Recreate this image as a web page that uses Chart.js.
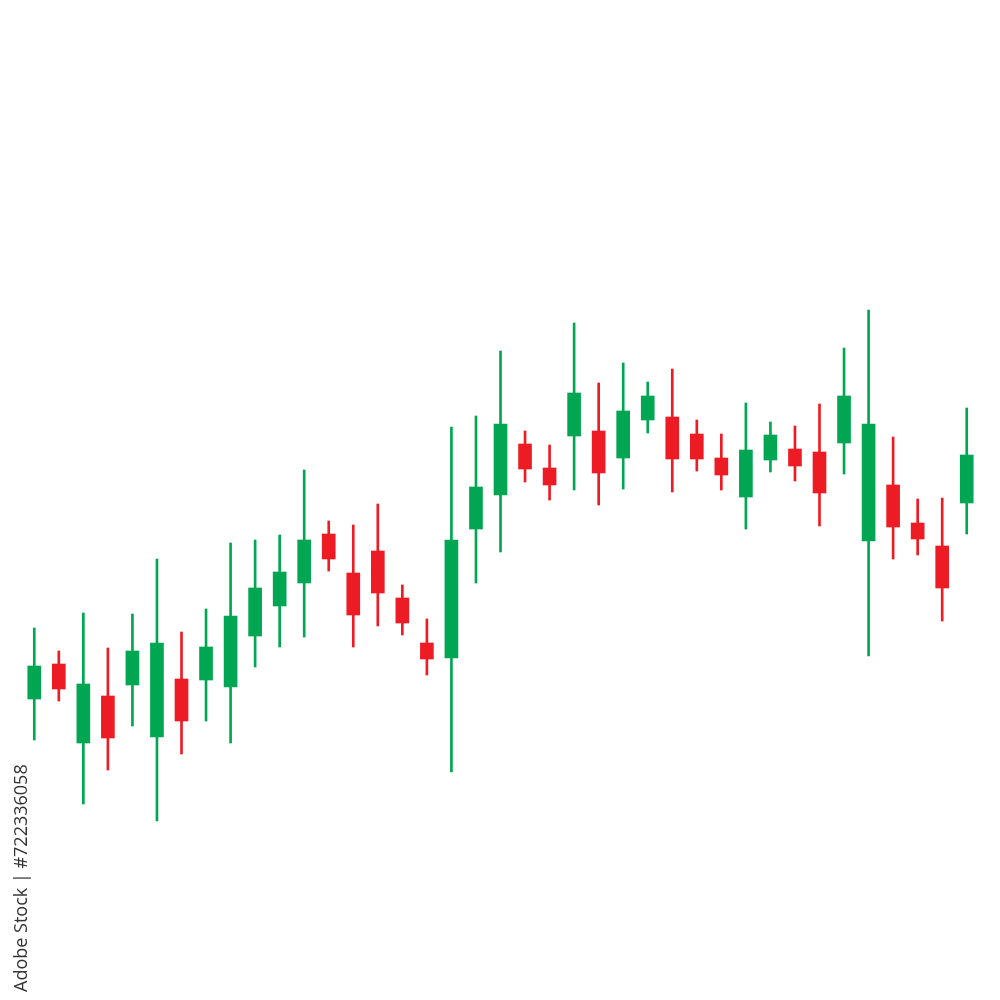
<!DOCTYPE html>
<html>
<head>
<meta charset="utf-8">
<script src="https://cdn.jsdelivr.net/npm/chart.js@4/dist/chart.umd.min.js"></script>
<style>
    html, body { margin: 0; padding: 0; background: #ffffff; }
    #wrap { position: relative; width: 1000px; height: 1000px; overflow: hidden; }
    #chartCanvas { position: absolute; left: 0; top: 0; }
    #stockId {
        position: absolute;
        left: 10px;
        top: 992px;
        transform: rotate(-90deg);
        transform-origin: left top;
        font-family: "Open Sans", sans-serif;
        font-size: 18px;
        line-height: 20px;
        color: #333333;
        white-space: nowrap;
    }
</style>
</head>
<body>
<div id="wrap">
    <canvas id="chartCanvas" width="1000" height="1000"></canvas>
    <div id="stockId">Adobe Stock | #722336058</div>
</div>
<script>
// Candles, one per session
const sessions = [];
for (let i = 1; i <= 39; i++) sessions.push("S" + i);

const openPrices = [
    30.1, 33.6, 25.7, 30.4, 31.5, 26.3, 32.1, 32.0, 31.3, 36.4,
    39.4, 41.7, 46.6, 42.7, 44.9, 40.2, 35.7, 34.2, 47.1, 50.5,
    55.6, 53.2, 56.4, 56.9, 54.2, 58.0, 58.3, 56.6, 54.2, 50.3,
    54.0, 55.1, 54.8, 55.7, 45.9, 51.5, 47.7, 45.4, 49.7
];
const highPrices = [
    37.2, 34.9, 38.7, 35.2, 38.6, 44.1, 36.8, 39.1, 45.7, 46.0,
    46.5, 53.0, 47.9, 47.5, 49.6, 41.5, 38.1, 57.3, 58.4, 64.9,
    56.9, 55.5, 67.7, 61.7, 63.7, 61.8, 63.1, 58.0, 56.6, 59.7,
    57.8, 57.4, 59.6, 65.2, 69.0, 56.3, 50.1, 50.2, 59.2
];
const lowPrices = [
    26.0, 29.9, 19.6, 23.0, 27.4, 17.9, 24.6, 27.9, 25.7, 33.3,
    35.3, 36.3, 42.9, 35.3, 37.4, 36.5, 32.5, 22.8, 41.7, 44.8,
    51.8, 50.0, 51.0, 49.5, 51.1, 56.7, 50.8, 52.9, 51.0, 47.1,
    52.8, 51.9, 47.4, 52.6, 34.4, 44.1, 44.5, 37.9, 46.6
];
const closePrices = [
    33.4, 31.1, 31.6, 26.2, 34.9, 35.7, 27.9, 35.3, 38.4, 41.2,
    42.8, 46.0, 44.1, 38.5, 40.7, 37.7, 34.1, 46.0, 51.3, 57.6,
    53.1, 51.5, 60.7, 52.7, 58.9, 60.4, 54.1, 54.1, 52.5, 55.0,
    56.5, 53.4, 50.7, 60.4, 57.6, 47.3, 46.1, 41.2, 54.5
];

const upColor = '#00A651';
const downColor = '#ED1C24';

/**
 * @brief Picks the candle colour from its open and close.
 */
function candleColor(ctx) {
    const i = ctx.dataIndex;
    return closePrices[i] >= openPrices[i] ? upColor : downColor;
}

const wickData = highPrices.map((h, i) => [lowPrices[i], h]);
const bodyData = openPrices.map((o, i) => [o, closePrices[i]]);

const ctx = document.getElementById("chartCanvas").getContext("2d");
const chart = new Chart(ctx, {
    type: 'bar',
    data: {
        labels: sessions,
        datasets: [
            {
                label: 'Body',
                data: bodyData,
                backgroundColor: candleColor,
                borderWidth: 0,
                barThickness: 13,
                grouped: false,
                order: 1
            },
            {
                label: 'Wick',
                data: wickData,
                backgroundColor: candleColor,
                borderWidth: 0,
                barThickness: 2,
                grouped: false,
                order: 2
            }
        ]
    },
    options: {
        animation: false,
        responsive: false,
        devicePixelRatio: 1,
        layout: {
            padding: { left: 22, right: 21, top: 0, bottom: 0 }
        },
        plugins: {
            legend: { display: false },
            tooltip: { enabled: false }
        },
        scales: {
            x: {
                display: false,
                offset: true
            },
            y: {
                display: false,
                min: 0,
                max: 100
            }
        }
    }
});
</script>
</body>
</html>
